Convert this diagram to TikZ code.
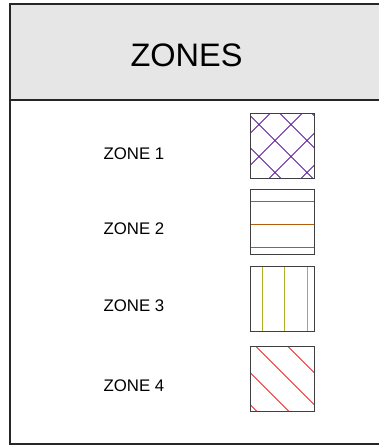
\documentclass[tikz,border=0pt]{standalone}
\usepackage{fontspec}
\setmainfont{Liberation Sans}
\usepackage{tikz}
\usetikzlibrary{positioning}
\usepackage{xcolor}
\definecolor{zonepurple}{RGB}{90,30,154}
\definecolor{zonebrown}{RGB}{180,92,10}
\definecolor{zoneolive}{RGB}{176,176,40}
\definecolor{zonered}{RGB}{240,40,40}
\definecolor{headgray}{RGB}{230,230,230}
\tikzset{
  frameline/.style={line width=1.6pt, draw=black!85},
  zonelbl/.style={font=\fontsize{16.8}{19}\selectfont, inner sep=0pt},
  swatch/.style={rectangle, draw=black!75, line width=1pt,
    minimum width=64pt, minimum height=65pt, inner sep=0pt},
  hatchline/.style={line width=1pt},
  zoneA/.style={swatch, path picture={
    \foreach \k in {19.5,51.5,83.5,115.5}
      \draw[hatchline, zonepurple] (path picture bounding box.north west)
        ++(\k-80,80) -- ++(160,-160);
    \foreach \k in {-33.5,-1.5,30.5,62.5}
      \draw[hatchline, zonepurple] (path picture bounding box.north west)
        ++(\k-80,-80) -- ++(160,160);}},
  zoneB/.style={swatch, path picture={
    \foreach \k in {12.3,34.9,57.5}
      \draw[hatchline, zonebrown] (path picture bounding box.north west)
        ++(-5,\k) -- ++(75,0);}},
  zoneC/.style={swatch, path picture={
    \foreach \k in {12,34.6,57.2}
      \draw[hatchline, zoneolive] (path picture bounding box.north west)
        ++(\k,-5) -- ++(0,75);}},
  zoneD/.style={swatch, path picture={
    \foreach \k in {-58.5,-26.5,5.5,37.5}
      \draw[hatchline, zonered] (path picture bounding box.north west)
        ++(\k-80,-80) -- ++(160,160);}},
}
\begin{document}
\begin{tikzpicture}[x=1pt, y=-1pt]
  \useasboundingbox (0,0) rectangle (379,446);
  \clip (0,0) rectangle (379,446);

  % ---- Frame and header ----
  \coordinate (frameNW) at (10,4);
  \coordinate (frameSE) at (392,444);
  \coordinate (headSE)  at (392,100);
  \fill[headgray] (frameNW) rectangle (headSE);
  \draw[frameline] (frameNW) rectangle (frameSE);
  \draw[frameline] (frameNW |- headSE) -- (headSE);
  \node[font=\fontsize{32.5}{38}\selectfont, inner sep=0pt] (title) at (186.5,55) {ZONES};

  % ---- Swatches ----
  \node[zoneA] (sw1) at (282,146.5) {};
  \node[zoneB] (sw2) at (282,222)   {};
  \node[zoneC] (sw3) at (282,298.5) {};
  \node[zoneD] (sw4) at (282,378.5) {};

  % ---- Labels ----
  \node[zonelbl] (z1) at (134,154)   {ZONE 1};
  \node[zonelbl] (z2) at (134,229)   {ZONE 2};
  \node[zonelbl] (z3) at (134,305.5) {ZONE 3};
  \node[zonelbl] (z4) at (134,386)   {ZONE 4};
\end{tikzpicture}
\end{document}
